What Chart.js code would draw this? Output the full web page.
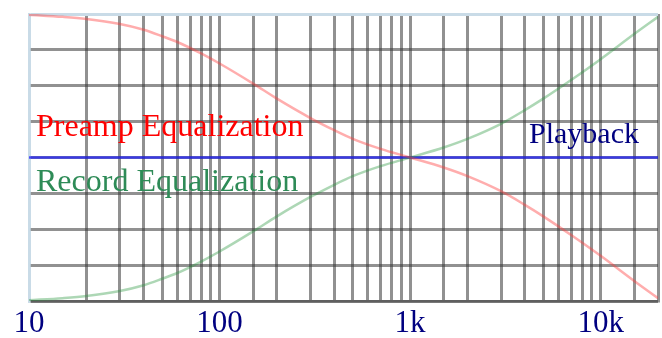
<!DOCTYPE html>
<html>
<head>
<meta charset="utf-8">
<script src="https://cdn.jsdelivr.net/npm/chart.js@4.4.1/dist/chart.umd.min.js"></script>
<style>
  html, body { margin: 0; padding: 0; background: #fff; }
  #wrap { width: 662px; height: 338px; }
</style>
</head>
<body>
<div id="wrap"><canvas id="eq"></canvas></div>
<script>
// frequency (Hz) and response (dB)
const freqs    = [10, 15, 20, 30, 40, 50, 60, 80, 100, 150, 200, 300, 400, 500, 700, 1000, 1500, 2000, 3000, 4000, 5000, 7000, 10000, 15000, 20000];
const preampDb = [19.9, 19.6, 19.3, 18.6, 17.8, 16.9, 16.1, 14.5, 13.1, 10.3, 8.2, 5.5, 3.8, 2.6, 1.2, 0, -1.4, -2.6, -4.7, -6.6, -8.2, -10.8, -13.7, -17.2, -19.6];
const recordDb = [-19.9, -19.6, -19.3, -18.6, -17.8, -16.9, -16.1, -14.5, -13.1, -10.3, -8.2, -5.5, -3.8, -2.6, -1.2, 0, 1.4, 2.6, 4.7, 6.6, 8.2, 10.8, 13.7, 17.2, 19.6];
const playbackDb = freqs.map(() => 0);
const tickLabels = { 10: '10', 100: '100', 1000: '1k', 10000: '10k' };

const SERIF = '"Liberation Serif", "DejaVu Serif", serif';
const GRID = 'rgba(55,55,55,0.55)';
const EDGE = '#c9dbe7';

const pts = ys => freqs.map((f, i) => ({ x: f, y: ys[i] }));

// text captions inside the plot
const captionPlugin = {
  id: 'captions',
  afterDatasetsDraw(chart) {
    const { ctx, chartArea: a } = chart;
    ctx.save();
    ctx.textBaseline = 'alphabetic';
    ctx.textAlign = 'left';
    ctx.font = '32px ' + SERIF;
    ctx.fillStyle = '#ff0000';
    ctx.fillText('Preamp Equalization', a.left + 7, a.top + 122);
    ctx.fillStyle = '#2e8b57';
    ctx.fillText('Record Equalization', a.left + 7, a.top + 177);
    ctx.font = '30px ' + SERIF;
    ctx.fillStyle = '#000080';
    ctx.fillText('Playback', a.left + 500, a.top + 129);
    ctx.restore();
  }
};

new Chart(document.getElementById('eq'), {
  type: 'line',
  data: {
    datasets: [
      { data: pts(preampDb), borderColor: 'rgba(255,60,60,0.42)', borderWidth: 2.5, pointRadius: 0, cubicInterpolationMode: 'monotone' },
      { data: pts(recordDb), borderColor: 'rgba(40,150,60,0.38)', borderWidth: 2.5, pointRadius: 0, cubicInterpolationMode: 'monotone' },
      { data: pts(playbackDb), borderColor: 'rgba(30,30,255,0.75)', borderWidth: 2.5, pointRadius: 0 }
    ]
  },
  options: {
    responsive: true,
    maintainAspectRatio: false,
    animation: false,
    layout: { padding: { left: 0, top: 14, right: 4, bottom: 0 } },
    plugins: { legend: { display: false }, tooltip: { enabled: false } },
    scales: {
      x: {
        type: 'logarithmic',
        min: 10,
        max: 20000,
        afterFit: s => { s.height = 37; },
        border: { color: GRID, width: 2.5 },
        grid: {
          drawTicks: false,
          lineWidth: 3,
          color: c => (c.tick && c.tick.value === 10 ? EDGE : GRID)
        },
        ticks: {
          autoSkip: false,
          maxRotation: 0,
          padding: 4,
          color: '#000080',
          font: { family: SERIF, size: 31 },
          callback: v => tickLabels[v] || ''
        }
      },
      y: {
        min: -20,
        max: 20,
        afterFit: s => { s.width = 29; },
        border: { color: EDGE, width: 2.5 },
        grid: {
          drawTicks: false,
          lineWidth: 3,
          color: c => (c.tick && c.tick.value === 20 ? EDGE : GRID)
        },
        ticks: { display: false, stepSize: 5 }
      }
    }
  },
  plugins: [captionPlugin]
});
</script>
</body>
</html>
